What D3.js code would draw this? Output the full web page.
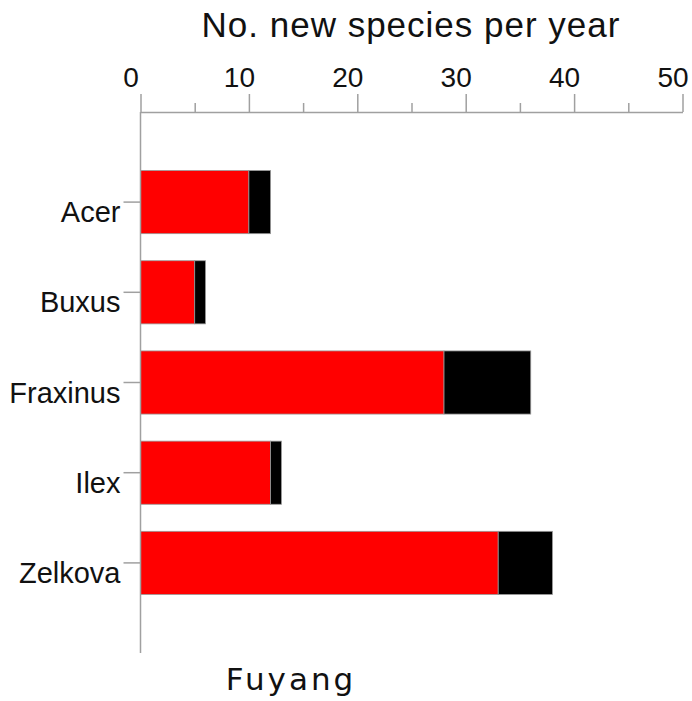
<!DOCTYPE html>
<html><head><meta charset="utf-8">
<script src="https://cdn.jsdelivr.net/npm/d3@7"></script>
<style>body{margin:0;background:#fff}</style>
</head><body>
<svg id="c" width="692" height="701"></svg>
<script>
const categories = ["Acer", "Buxus", "Fraxinus", "Ilex", "Zelkova"];
const redValues = [10, 5, 28, 12, 33];
const blackValues = [2, 1, 8, 1, 5];
const majorTicks = [0, 10, 20, 30, 40, 50];
const minorTicks = [5, 15, 25, 35, 45];
const xTitle = "No. new species per year";
const siteLabel = "Fuyang";

const svg = d3.select("#c");
const axisColor = "#a0a0a0";
const x = d3.scaleLinear().domain([0, 50]).range([140.5, 682.5]);
const y = d3.scaleBand().domain(categories).range([157, 608]).paddingInner(0.3).paddingOuter(0.15);
const axisY = 112;

// bars
const g = svg.append("g");
categories.forEach((c, i) => {
  g.append("rect").attr("x", x(0)).attr("y", y(c))
    .attr("width", x(redValues[i]) - x(0)).attr("height", y.bandwidth())
    .attr("fill", "#ff0000").attr("stroke", "#999").attr("stroke-width", 0.8);
  g.append("rect").attr("x", x(redValues[i])).attr("y", y(c))
    .attr("width", x(redValues[i] + blackValues[i]) - x(redValues[i])).attr("height", y.bandwidth())
    .attr("fill", "#000").attr("stroke", "#999").attr("stroke-width", 0.8);
});

// top axis
const ax = svg.append("g").attr("transform", `translate(0,${axisY})`);
const xAxis = d3.axisTop(x).tickValues(majorTicks).tickSize(18).tickSizeOuter(0).tickPadding(7);
ax.call(xAxis);
ax.select(".domain").attr("stroke", axisColor).attr("stroke-width", 1.5);
ax.selectAll(".tick line").attr("stroke", axisColor).attr("stroke-width", 1.5);
ax.selectAll(".tick text").attr("font-family", "Liberation Sans, Arial, sans-serif")
  .attr("font-size", 28).attr("fill", "#111").attr("dx", -10);
const axm = svg.append("g").attr("transform", `translate(0,${axisY})`);
axm.call(d3.axisTop(x).tickValues(minorTicks).tickSize(9).tickSizeOuter(0).tickFormat(""));
axm.select(".domain").remove();
axm.selectAll(".tick line").attr("stroke", axisColor).attr("stroke-width", 1.5);

// left axis
const ay = svg.append("g").attr("transform", `translate(${x(0)},0)`);
svg.append("line").attr("x1", x(0)).attr("x2", x(0)).attr("y1", axisY).attr("y2", 653)
  .attr("stroke", axisColor).attr("stroke-width", 1.5);
ay.call(d3.axisLeft(y).tickSize(17).tickSizeOuter(0).tickPadding(3));
ay.select(".domain").remove();
ay.selectAll(".tick line").attr("stroke", axisColor).attr("stroke-width", 1.5);
ay.selectAll(".tick text").attr("font-family", "Liberation Sans, Arial, sans-serif")
  .attr("font-size", 29).attr("fill", "#111").attr("dy", 20);

// title
svg.append("text").attr("x", 411).attr("y", 37).attr("text-anchor", "middle")
  .attr("font-family", "Liberation Sans, Arial, sans-serif").attr("font-size", 35)
  .attr("letter-spacing", 1).attr("fill", "#111").text(xTitle);
svg.append("text").attr("x", 291).attr("y", 690).attr("text-anchor", "middle")
  .attr("font-family", "DejaVu Sans, Verdana, sans-serif").attr("font-size", 31)
  .attr("letter-spacing", 3).attr("fill", "#111").text(siteLabel);
</script>
</body></html>
